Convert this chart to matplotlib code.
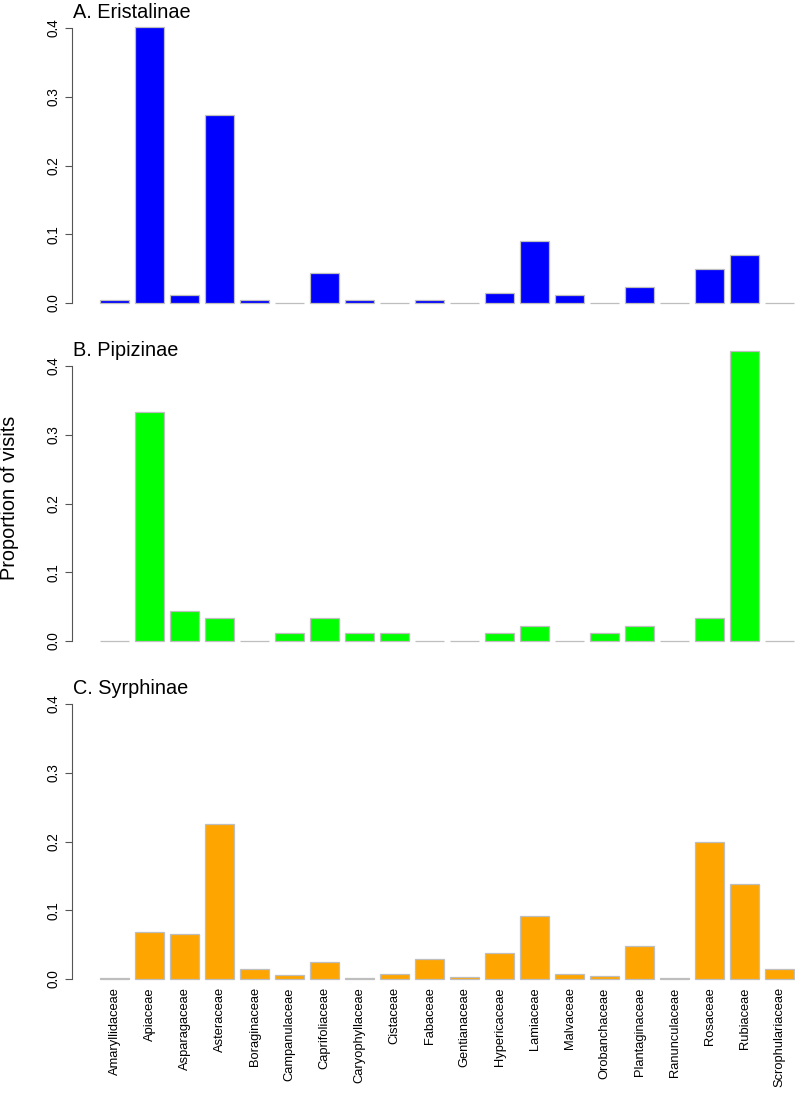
import matplotlib.pyplot as plt
import numpy as np

families = ["Amaryllidaceae", "Apiaceae", "Asparagaceae", "Asteraceae", "Boraginaceae",
            "Campanulaceae", "Caprifoliaceae", "Caryophyllaceae", "Cistaceae", "Fabaceae",
            "Gentianaceae", "Hypericaceae", "Lamiaceae", "Malvaceae", "Orobanchaceae",
            "Plantaginaceae", "Ranunculaceae", "Rosaceae", "Rubiaceae", "Scrophulariaceae"]

eristalinae = [0.004, 0.401, 0.011, 0.274, 0.004, 0.0, 0.044, 0.004, 0.0, 0.004,
               0.0, 0.014, 0.090, 0.011, 0.0, 0.023, 0.0, 0.050, 0.070, 0.0]
pipizinae = [0.0, 0.333, 0.044, 0.033, 0.0, 0.011, 0.033, 0.011, 0.011, 0.0,
             0.0, 0.011, 0.022, 0.0, 0.011, 0.022, 0.0, 0.033, 0.422, 0.0]
syrphinae = [0.001, 0.068, 0.066, 0.226, 0.014, 0.006, 0.025, 0.002, 0.008, 0.029,
             0.003, 0.038, 0.092, 0.008, 0.004, 0.048, 0.002, 0.199, 0.138, 0.015]

titles = ["A. Eristalinae", "B. Pipizinae", "C. Syrphinae"]
colors = ["#0000FF", "#00FF00", "#FFA500"]
series = [eristalinae, pipizinae, syrphinae]

plt.rcParams['font.family'] = ['Liberation Sans', 'DejaVu Sans']

W, H = 795, 1094
fig = plt.figure(figsize=(W / 100, H / 100), dpi=100)

x = np.arange(len(families))
bottoms = [303, 641, 979]     # pixel row of 0.0 in each panel
ytop = 0.43
px_per_unit = 687.5           # pixels per 1.0 of proportion
ax_h = ytop * px_per_unit

for k in range(3):
    b = bottoms[k]
    ax = fig.add_axes([72 / W, 1 - b / H, (W - 72) / W, ax_h / H])
    # clip_on off so the empty (zero) bars still show their grey border line
    ax.bar(x, series[k], width=0.833, color=colors[k], edgecolor="#BEBEBE",
           linewidth=0.9, clip_on=False)
    ax.set_xlim(-1.217, 19.44)
    ax.set_ylim(0, ytop)
    for s in ["top", "right", "bottom"]:
        ax.spines[s].set_visible(False)
    ax.spines["left"].set_bounds(0, 0.4)
    ax.spines["left"].set_color("#555555")
    ax.spines["left"].set_linewidth(0.8)
    ax.set_yticks([0.0, 0.1, 0.2, 0.3, 0.4])
    ax.set_yticklabels(["0.0", "0.1", "0.2", "0.3", "0.4"], rotation=90, va="center")
    ax.tick_params(axis="y", length=5, width=0.8, color="#555555", labelsize=9.8, pad=3)
    if k == 2:
        ax.set_xticks(x)
        ax.set_xticklabels(families, rotation=90, fontsize=9.3)
        ax.tick_params(axis="x", length=0, pad=6)
    else:
        ax.set_xticks([])
    # panel title
    fig.text(73 / W, 1 - (b - 285) / H, titles[k], fontsize=14.3, va="baseline", ha="left")

fig.text(10 / W, 1 - 498 / H, "Proportion of visits", rotation=90, fontsize=14.3,
         va="center", ha="center")

fig.savefig("out.png", dpi=100)
